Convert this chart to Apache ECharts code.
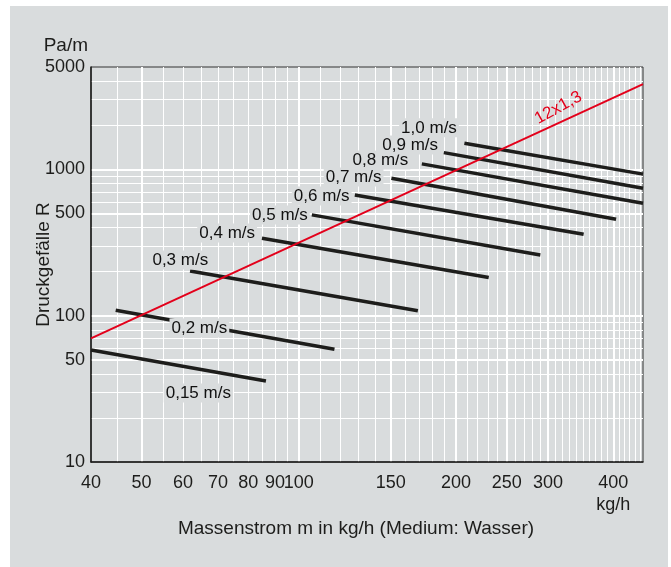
<!DOCTYPE html>
<html>
<head>
<meta charset="utf-8">
<script src="https://cdn.jsdelivr.net/npm/echarts@6/dist/echarts.min.js"></script>
<style>
  html, body { margin: 0; padding: 0; background: #fff; }
  #wrap { position: relative; width: 671px; height: 567px; background: #fff; }
  #chart { position: absolute; left: 10px; top: 6px; width: 658px; height: 561px; background: #d9dcdd; }
</style>
</head>
<body>
<div id="wrap"><div id="chart"></div></div>
<script>
// Achsen (log-log)
const xLabels = [40, 50, 60, 70, 80, 90, 100, 150, 200, 250, 300, 400];
const xMajor = [50, 100, 150, 200, 250, 300, 400];
const xMinor = [45, 55, 60, 65, 70, 75, 80, 85, 90, 95,
  110, 120, 130, 140, 160, 170, 180, 190,
  210, 220, 230, 240, 260, 270, 280, 290,
  310, 320, 330, 340, 350, 360, 370, 380, 390,
  410, 420, 430, 440, 450];
const yLabels = [10, 50, 100, 500, 1000, 5000];
const yMajor = [50, 100, 500, 1000];
const yMinor = [20, 30, 40, 60, 70, 80, 90, 200, 300, 400, 600, 700, 800, 900, 2000, 3000, 4000];

// Geschwindigkeitslinien (Start/Ende in kg/h bzw. Pa/m)
const velocityNames = ['0,15 m/s', '0,2 m/s', '0,3 m/s', '0,4 m/s', '0,5 m/s', '0,6 m/s', '0,7 m/s', '0,8 m/s', '0,9 m/s', '1,0 m/s'];
const startX = [40, 44.6, 61.9, 85, 105.9, 128, 150.4, 172, 189.5, 207.5];
const startY = [58.3, 109, 202, 338, 488, 668, 869, 1089, 1300, 1507];
const endX = [86.5, 117, 169, 231, 290, 351, 405, 456, 456, 456];
const endY = [35.8, 58.9, 108, 182, 260, 360, 456, 586, 743, 927];

// Beschriftungen der Linien
const labelX = [64.2, 64.5, 59.3, 72.9, 92.0, 110.6, 127.3, 143.3, 163.4, 177.5];
const labelY = [29.6, 82.4, 240, 367, 488, 658, 887, 1158, 1468, 1919];

// Rohr 12x1,3
const pipeName = '12x1,3';
const pipeX = [40, 456];
const pipeY = [70, 3820];
const pipeLabelX = 314;
const pipeLabelY = 2630;

const FONT = 'Liberation Sans, Arial, sans-serif';
const TXT = '#1d1d1b';
const GREY = '#d9dcdd';

const chart = echarts.init(document.getElementById('chart'));

const series = [];
velocityNames.forEach(function (n, i) {
  series.push({
    name: n,
    type: 'line',
    data: [[startX[i], startY[i]], [endX[i], endY[i]]],
    symbol: 'none',
    silent: true,
    z: 3,
    lineStyle: { color: '#1d1d1b', width: 3.5, cap: 'butt' }
  });
});
series.push({
  name: pipeName,
  type: 'line',
  data: [[pipeX[0], pipeY[0]], [pipeX[1], pipeY[1]]],
  symbol: 'none',
  silent: true,
  z: 4,
  lineStyle: { color: '#e3001b', width: 2 }
});
series.push({
  type: 'scatter',
  symbolSize: 0,
  silent: true,
  z: 6,
  itemStyle: { opacity: 1 },
  data: velocityNames.map(function (n, i) { return { name: n, value: [labelX[i], labelY[i]] }; }),
  label: {
    show: true,
    position: 'inside',
    formatter: function (p) { return p.name; },
    color: '#111',
    opacity: 1,
    textBorderWidth: 0,
    fontSize: 17,
    fontFamily: FONT,
    backgroundColor: GREY,
    padding: [1, 2]
  }
});
series.push({
  type: 'scatter',
  symbolSize: 0,
  silent: true,
  z: 6,
  data: [{ name: pipeName, value: [pipeLabelX, pipeLabelY] }],
  label: {
    show: true,
    position: 'inside',
    formatter: pipeName,
    rotate: 29,
    color: '#e3001b',
    opacity: 1,
    textBorderWidth: 0,
    fontSize: 17,
    fontFamily: FONT
  }
});

const option = {
  animation: false,
  backgroundColor: GREY,
  grid: {
    left: 81, top: 61, width: 552, height: 395,
    outerBoundsMode: 'none', containLabel: false,
    show: true, backgroundColor: GREY, borderColor: '#333', borderWidth: 1
  },
  xAxis: [
    {
      type: 'log', min: 40, max: 456, position: 'bottom',
      name: 'Massenstrom m in kg/h (Medium: Wasser)',
      nameLocation: 'middle', nameGap: 57, nameMoveOverlap: false,
      nameTextStyle: { fontSize: 19, color: TXT, fontFamily: FONT, padding: [0, 22, 0, 0] },
      axisLine: { show: true, lineStyle: { color: '#1d1d1b', width: 1.5 } },
      axisTick: { show: false, customValues: xMajor },
      axisLabel: {
        customValues: xLabels, fontSize: 18, color: TXT, fontFamily: FONT, margin: 10,
        lineHeight: 22,
        formatter: function (v) { return v === 400 ? '400\nkg/h' : String(v); }
      },
      splitLine: { show: true, lineStyle: { color: '#ffffff', width: 2 } }
    },
    {
      type: 'log', min: 40, max: 456, position: 'bottom',
      axisLine: { show: false },
      axisTick: { show: false, customValues: xMinor },
      axisLabel: { show: false },
      splitLine: { show: true, lineStyle: { color: '#ffffff', width: 1 } }
    }
  ],
  yAxis: [
    {
      type: 'log', min: 10, max: 5000, position: 'left',
      name: 'Druckgefälle R',
      nameLocation: 'middle', nameGap: 38, nameMoveOverlap: false,
      nameTextStyle: { fontSize: 19, color: TXT, fontFamily: FONT },
      axisLine: { show: true, lineStyle: { color: '#1d1d1b', width: 1.5 } },
      axisTick: { show: false, customValues: yMajor },
      axisLabel: {
        customValues: yLabels, fontSize: 18, color: TXT, fontFamily: FONT, margin: 6,
        formatter: function (v) { return String(v); }
      },
      splitLine: { show: true, lineStyle: { color: '#ffffff', width: 2 } }
    },
    {
      type: 'log', min: 10, max: 5000, position: 'left',
      name: 'Pa/m', nameLocation: 'end', nameGap: 12,
      nameTextStyle: { fontSize: 19, color: TXT, fontFamily: FONT, align: 'right', padding: [0, 3, 0, 0] },
      axisLine: { show: false },
      axisTick: { show: false, customValues: yMinor },
      axisLabel: { show: false },
      splitLine: { show: true, lineStyle: { color: '#ffffff', width: 1 } }
    }
  ],
  series: series
};

chart.setOption(option);
</script>
</body>
</html>
